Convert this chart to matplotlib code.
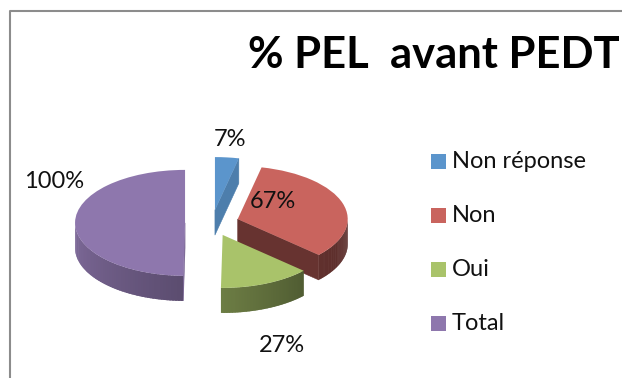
import numpy as np
import matplotlib
matplotlib.use('Agg')
import matplotlib.pyplot as plt
import matplotlib.colors as mcolors
from matplotlib.patches import Polygon, Rectangle
from matplotlib.transforms import Affine2D

labels = ['Non réponse', 'Non', 'Oui', 'Total']
values = [7, 67, 27, 100]
pct_labels = ['7%', '67%', '27%', '100%']
colors = ['#5b95cc', '#c9645e', '#a9c36a', '#8e77ad']

plt.rcParams['font.family'] = ['Lato', 'DejaVu Sans']

W, H = 622, 378
fig = plt.figure(figsize=(W / 100, H / 100), dpi=100)
ax = fig.add_axes([0, 0, 1, 1])

# pie geometry in pixel units (y up), flattened to look tilted
cx, cy = 212, 155
rx, ry = 110, 53
depth = 25
explode = 0.245

wedges, _ = ax.pie(values, startangle=90, counterclock=False,
                   explode=[explode] * len(values), colors=colors,
                   wedgeprops=dict(linewidth=0))


def proj(x, y, z=0.0):
    return (cx + rx * x, cy + ry * y - z)


def shade(c, f):
    r, g, b = mcolors.to_rgb(c)
    return (r * f, g * f, b * f)


def wall_factor(a):
    # side walls get darker going from the left round to the right
    a = (a + 180) % 360 - 180
    t = (a + 180) / 180
    return np.interp(t, [0, 0.5, 0.75, 1], [0.9, 0.64, 0.48, 0.45])


def wall(ox, oy, a0, a1, n=30):
    r = np.radians(np.linspace(a0, a1, n))
    top = [proj(ox + np.cos(v), oy + np.sin(v)) for v in r]
    bot = [proj(ox + np.cos(v), oy + np.sin(v), depth) for v in r[::-1]]
    return top + bot


# paint slices from back to front
order = sorted(range(len(wedges)), key=lambda i: -wedges[i].center[1])
z = 2
for i in order:
    w = wedges[i]
    ox, oy = w.center
    t1, t2 = w.theta1, w.theta2
    col = colors[i]

    # outer wall, only the part facing the viewer, in overlapping strips
    angs = np.linspace(t1, t2, 400)
    front = angs[np.sin(np.radians(angs)) <= 0]
    if len(front) > 1:
        edges = np.linspace(front[0], front[-1], 60)
        step = edges[1] - edges[0]
        for a0 in edges[:-1]:
            a1 = min(a0 + 1.8 * step, front[-1])
            fc = shade(col, wall_factor(a0 + step / 2))
            ax.add_patch(Polygon(wall(ox, oy, a0, a1, 6), closed=True,
                                 lw=0, fc=fc, zorder=z))

    # radial cut faces, lit from the right
    for t, sgn in ((t1, 1), (t2, -1)):
        r = np.radians(t)
        nx, ny = sgn * np.sin(r), -sgn * np.cos(r)
        if ny > -1e-6:
            continue
        fc = shade(col, np.interp(nx, [-1, 1], [0.45, 0.85]))
        pts = [proj(ox, oy), proj(ox + np.cos(r), oy + np.sin(r)),
               proj(ox + np.cos(r), oy + np.sin(r), depth),
               proj(ox, oy, depth)]
        ax.add_patch(Polygon(pts, closed=True, lw=0.4, fc=fc, ec=fc,
                             zorder=z))

    # top face
    w.set_transform(Affine2D().scale(rx, ry).translate(cx, cy) + ax.transData)
    w.set_zorder(z + 0.5)
    z += 1

ax.set_aspect('auto')
ax.set_xlim(0, W)
ax.set_ylim(0, H)
ax.axis('off')

# value labels
label_pos = [(230, 238), (273, 176), (282, 33), (54, 196)]
for txt, (lx, ly) in zip(pct_labels, label_pos):
    ax.text(lx, ly, txt, fontsize=17, ha='center', va='center',
            color='#111111', zorder=20)

# title
ax.text(620, 310, '% PEL  avant PEDT', fontsize=31.3, fontweight='bold',
        ha='right', va='baseline', color='black', zorder=20)

# legend
for k, (lab, col) in enumerate(zip(labels, colors)):
    yy = H - (162 + 54 * k)
    ax.add_patch(Rectangle((431, yy - 7), 15, 15, fc=col, ec='none', zorder=20))
    ax.text(452, yy, lab, fontsize=17, ha='left', va='center',
            color='#111111', zorder=20)

# chart border (runs off the right and bottom)
ax.plot([10, 10, W + 5], [-5, H - 11, H - 11], color='#8c8c8c', lw=1.5,
        clip_on=False, zorder=1)

fig.savefig('out.png', dpi=100)
